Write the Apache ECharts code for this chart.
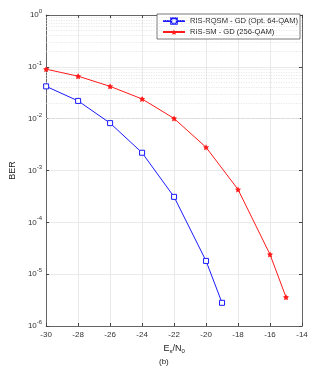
<!DOCTYPE html>
<html><head><meta charset="utf-8">
<script src="https://cdn.jsdelivr.net/npm/echarts@6/dist/echarts.min.js"></script>
<style>html,body{margin:0;padding:0;background:#fff}#c{width:313px;height:370px}</style>
</head><body><div id="c"></div>
<script>
var blueX = [-30, -28, -26, -24, -22, -20, -19];
var blueBER = [0.042, 0.022, 0.0082, 0.0022, 3.1e-4, 1.8e-5, 2.8e-6];
var redX = [-30, -28, -26, -24, -22, -20, -18, -16, -15];
var redBER = [0.09, 0.066, 0.042, 0.024, 0.0101, 0.0028, 4.3e-4, 2.4e-5, 3.6e-6];
var seriesNames = ['RIS-RQSM - GD (Opt. 64-QAM)', 'RIS-SM - GD (256-QAM)'];
var xTicks = [-30, -28, -26, -24, -22, -20, -18, -16, -14];
var decades = [-6, -5, -4, -3, -2, -1, 0];

var minorLines = [];
for (var e = -6; e < 0; e++) {
  for (var m = 2; m <= 9; m++) minorLines.push({yAxis: m * Math.pow(10, e)});
}
function zip(xs, ys) { return xs.map(function (x, i) { return [x, ys[i]]; }); }
var FONT = 'Liberation Sans';
var star = 'path://M0,-10 L3,-4 L9.5,-3 L5,2 L6,9 L0,6 L-6,9 L-5,2 L-9.5,-3 L-3,-4 Z';

var chart = echarts.init(document.getElementById('c'));
chart.setOption({
  animation: false,
  textStyle: {fontFamily: FONT},
  grid: {left: 39, right: 11, top: 15, bottom: 44},
  legend: {
    orient: 'vertical', left: 157, top: 14, itemWidth: 22, itemHeight: 7, itemGap: 3,
    padding: [3, 2, 3, 5], backgroundColor: '#fff', borderColor: '#555', borderWidth: 0.8, borderRadius: 0,
    textStyle: {fontSize: 7.6, color: '#222', fontFamily: FONT},
    data: seriesNames
  },
  xAxis: [{
    type: 'value', min: -30, max: -14, interval: 2,
    axisLine: {lineStyle: {color: '#444', width: 0.8}},
    axisTick: {inside: true, length: 3, lineStyle: {color: '#444'}},
    axisLabel: {fontSize: 8, color: '#333', margin: 5, formatter: function (v) { return xTicks.indexOf(v) >= 0 ? String(v) : ''; }},
    splitLine: {show: true, lineStyle: {color: '#e4e4e4', width: 0.8}},
    name: '{n|E}{s|s}{n|/N}{s|0}', nameLocation: 'middle', nameGap: 16,
    nameTextStyle: {rich: {n: {fontSize: 9, color: '#222', fontFamily: FONT}, s: {fontSize: 6, color: '#222', verticalAlign: 'bottom', padding: [6, 0, 0, 0], fontFamily: FONT}}}
  }, {
    type: 'value', min: -30, max: -14, interval: 2, position: 'top',
    axisLine: {lineStyle: {color: '#444', width: 0.8}},
    axisTick: {inside: true, length: 3, lineStyle: {color: '#444'}},
    axisLabel: {show: false}, splitLine: {show: false}
  }],
  yAxis: [{
    type: 'log', min: 1e-6, max: 1, logBase: 10,
    axisLine: {show: true, lineStyle: {color: '#444', width: 0.8}},
    axisTick: {show: true, inside: true, length: 3, lineStyle: {color: '#444'}},
    axisLabel: {fontSize: 8, color: '#333', margin: 4,
      formatter: function (v) { var ex = Math.round(Math.log10(v)); return decades.indexOf(ex) >= 0 ? '10{sup|' + ex + '}' : ''; },
      rich: {sup: {fontSize: 6, verticalAlign: 'top', padding: [0, 0, 7, 0], color: '#333'}}},
    splitLine: {show: true, lineStyle: {color: '#e4e4e4', width: 0.8}},
    name: 'BER', nameLocation: 'middle', nameGap: 24, nameRotate: 90,
    nameTextStyle: {fontSize: 9, color: '#222'}
  }, {
    type: 'log', min: 1e-6, max: 1, logBase: 10, position: 'right',
    axisLine: {show: true, lineStyle: {color: '#444', width: 0.8}},
    axisTick: {show: true, inside: true, length: 3, lineStyle: {color: '#444'}},
    axisLabel: {show: false}, splitLine: {show: false}
  }],
  graphic: [{type: 'text', left: 159, top: 358, style: {text: '(b)', fontSize: 8, fill: '#222', fontFamily: FONT}}],
  series: [{
    name: seriesNames[0], type: 'line', data: zip(blueX, blueBER),
    lineStyle: {color: '#1a1aff', width: 1}, itemStyle: {color: '#ffffff', borderColor: '#1a1aff', borderWidth: 1},
    symbol: 'rect', symbolSize: 5, showAllSymbol: true, z: 5,
    markLine: {silent: true, symbol: 'none', label: {show: false}, animation: false,
      lineStyle: {color: '#d8d8d8', type: [1, 1.5], width: 0.7}, data: minorLines}
  }, {
    name: seriesNames[1], type: 'line', data: zip(redX, redBER),
    lineStyle: {color: '#ff1a1a', width: 1}, itemStyle: {color: '#ff1a1a'},
    symbol: star, symbolSize: 6, z: 6
  }]
});
</script></body></html>
